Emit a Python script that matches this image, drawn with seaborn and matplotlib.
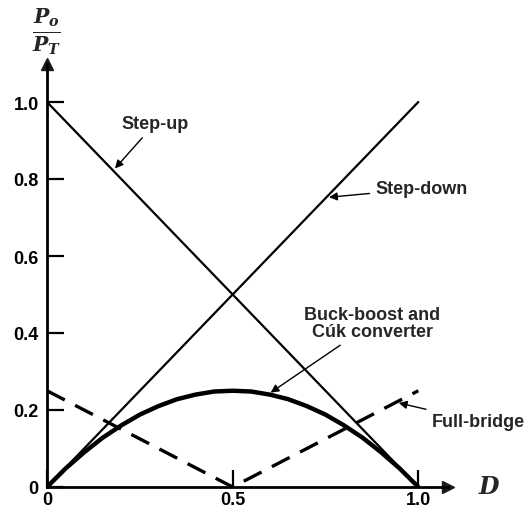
import numpy as np
import pandas as pd
import seaborn as sns
import matplotlib.pyplot as plt

sns.set_theme(style="ticks")
plt.rcParams['font.family'] = ['Liberation Sans', 'DejaVu Sans']
plt.rcParams['font.weight'] = 'bold'
plt.rcParams['mathtext.fontset'] = 'custom'
plt.rcParams['mathtext.it'] = 'DejaVu Serif:italic:bold'
plt.rcParams['mathtext.rm'] = 'DejaVu Serif:bold'

# duty cycle D and normalised power Po/PT
d_line = [0.0, 1.0]
step_up = [1.0, 0.0]
step_down = [0.0, 1.0]

d_bridge = [0.0, 0.5, 1.0]
full_bridge = [0.25, 0.0, 0.25]

d_curve = [0.0, 0.05, 0.1, 0.15, 0.2, 0.25, 0.3, 0.35, 0.4, 0.45, 0.5,
           0.55, 0.6, 0.65, 0.7, 0.75, 0.8, 0.85, 0.9, 0.95, 1.0]
buck_boost = [0.0, 0.048, 0.09, 0.128, 0.16, 0.188, 0.21, 0.228, 0.24, 0.248, 0.25,
              0.248, 0.24, 0.228, 0.21, 0.188, 0.16, 0.128, 0.09, 0.048, 0.0]

x_ticks = [0, 0.5, 1.0]
x_labels = ["0", "0.5", "1.0"]
y_ticks = [0, 0.2, 0.4, 0.6, 0.8, 1.0]
y_labels = ["0", "0.2", "0.4", "0.6", "0.8", "1.0"]

fig = plt.figure(figsize=(5.31, 5.10), dpi=100)
ax = fig.add_axes([47 / 531, 22 / 510, 401 / 531, 423.5 / 510])

sns.lineplot(x=d_line, y=step_up, ax=ax, color="black", lw=1.6)
sns.lineplot(x=d_line, y=step_down, ax=ax, color="black", lw=1.6)
sns.lineplot(x=d_curve, y=buck_boost, ax=ax, color="black", lw=3.2)
sns.lineplot(x=d_bridge, y=full_bridge, ax=ax, color="black", lw=2.4,
             dashes=False, linestyle=(0, (6, 3.5)))

ax.set_xlim(0, 1.08)
ax.set_ylim(0, 1.1)
sns.despine(ax=ax)
for s in ["left", "bottom"]:
    ax.spines[s].set_color("black")
    ax.spines[s].set_linewidth(2)

ax.set_xticks(x_ticks)
ax.set_xticklabels(x_labels)
ax.set_yticks(y_ticks)
ax.set_yticklabels(y_labels)
ax.tick_params(axis="both", direction="in", length=12, width=1.6, color="black",
               labelsize=13, labelcolor="black")
ax.tick_params(axis="y", pad=6)
ax.tick_params(axis="x", pad=3)

# axis arrows
ax.plot(1, 0, ">k", ms=9, transform=ax.transAxes, clip_on=False)
ax.plot(0, 1, "^k", ms=9, transform=ax.transAxes, clip_on=False)
fig.text(478 / 531, 1 - 488 / 510, r"$\mathit{D}$", fontsize=17, va="center", ha="left")
fig.text(47 / 531, 1 - 32 / 510, r"$\frac{P_o}{P_T}$",
         fontsize=21, va="center", ha="center")

arrow = dict(arrowstyle="-|>", color="black", lw=1.0, mutation_scale=12)
ax.annotate("Step-up", xy=(0.178, 0.822), xytext=(0.29, 0.943),
            ha="center", va="center", fontsize=13, arrowprops=arrow)
ax.annotate("Step-down", xy=(0.752, 0.752), xytext=(0.885, 0.775),
            ha="left", va="center", fontsize=13, arrowprops=arrow)
ax.annotate("Buck-boost and\nCúk converter", xy=(0.596, 0.241), xytext=(0.876, 0.425),
            ha="center", va="center", fontsize=13, linespacing=1.0, arrowprops=arrow)
ax.annotate("Full-bridge", xy=(0.94, 0.22), xytext=(1.037, 0.17),
            ha="left", va="center", fontsize=13, arrowprops=arrow,
            annotation_clip=False)

fig.savefig("out.png", dpi=100)
